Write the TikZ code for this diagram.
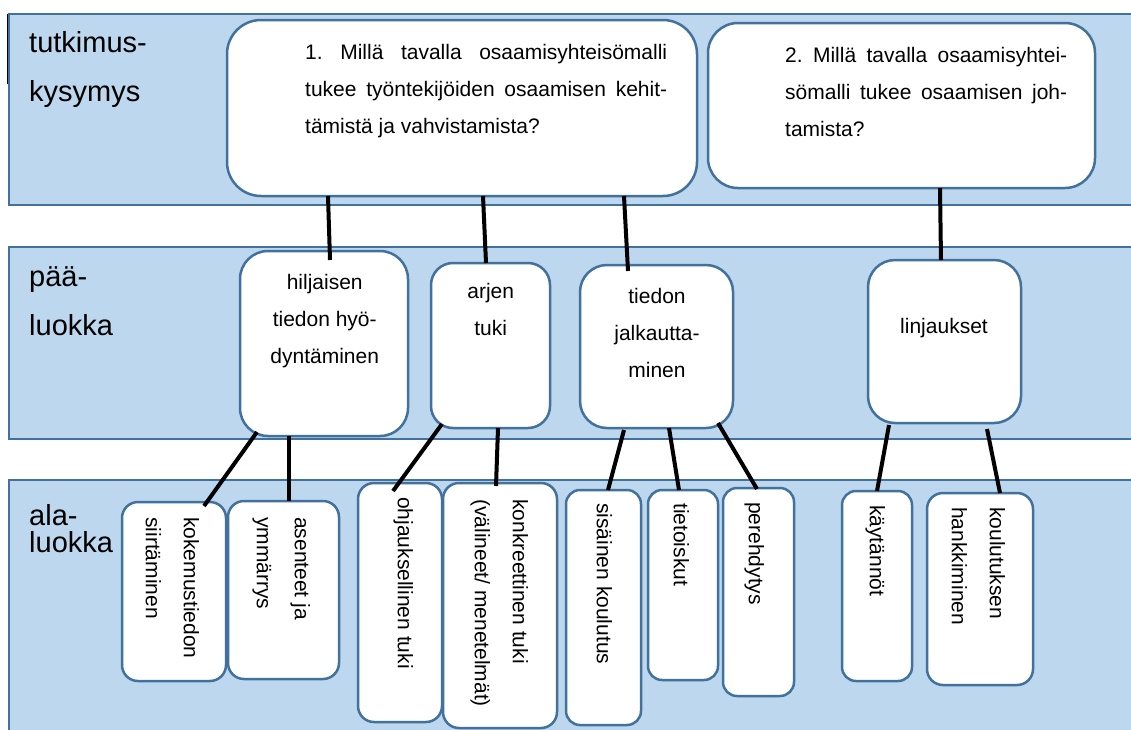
\documentclass[tikz,border=0pt]{standalone}
\usepackage{fontspec}
\setmainfont{Liberation Sans}
\usetikzlibrary{calc}
\definecolor{bandfill}{RGB}{189,215,238}
\definecolor{bandline}{RGB}{65,113,156}
\newcommand\lst[1]{\rule{0pt}{#1}}
\frenchspacing
\begin{document}
\begin{tikzpicture}[x=1pt,y=-1pt,
  band/.style={fill=bandfill,draw=bandline,line width=2pt},
  box/.style={draw=bandline,fill=white,line width=2.5pt,inner sep=0pt,outer sep=0pt},
  link/.style={line width=4pt,draw=black},
  lbl/.style={font=\fontsize{29}{49}\selectfont,anchor=north west,inner sep=0pt,align=left},
  qtxt/.style={font=\fontsize{21}{37}\selectfont,anchor=north west,inner sep=0pt,align=left},
  mtxt/.style={font=\fontsize{21}{37}\selectfont,anchor=north,inner sep=0pt,align=center},
  vtxt/.style={font=\fontsize{21}{38}\selectfont,inner sep=0pt,rotate=-90,anchor=north west,align=left}]
\useasboundingbox (0,0) rectangle (1131,729);
\clip (0,0) rectangle (1131,729);
% bracket mark
\draw[line width=1pt] (38,14) -- (7,14) -- (7,84);
% bands
\draw[band] (9,14) rectangle (1145,205);
\draw[band] (9,247) rectangle (1145,439);
\draw[band] (9,480) rectangle (1145,745);
% band labels
\node[lbl] (l1) at (29,30) {\lst{22pt}tutkimus-\\kysymys};
\node[lbl] (l2) at (29,264) {\lst{22pt}pää-\\luokka};
\node[lbl,font=\fontsize{29}{27}\selectfont] (l3) at (29,503) {\lst{22pt}ala-\\luokka};
% question boxes
\node[box,rounded corners=34pt,minimum width=470pt,minimum height=176pt] (q1) at (462,108) {};
\node[box,rounded corners=30pt,minimum width=387pt,minimum height=165pt] (q2) at (901.5,105.5) {};
\node[qtxt] (tq1) at (305,43) {\lst{16pt}\makebox[362pt][s]{1. Millä tavalla osaamisyhteisömalli}\\\makebox[362pt][s]{tukee työntekijöiden osaamisen kehit-}\\tämistä ja vahvistamista?};
\node[qtxt] (tq2) at (785,46) {\lst{16pt}\makebox[282pt][s]{2. Millä tavalla osaamisyhtei-}\\\makebox[282pt][s]{sömalli tukee osaamisen joh-}\\tamista?};
% main category boxes
\node[box,rounded corners=28pt,minimum width=168pt,minimum height=185pt] (m1) at (324,343.5) {};
\node[box,rounded corners=22pt,minimum width=119pt,minimum height=165pt] (m2) at (490.5,345.5) {};
\node[box,rounded corners=27pt,minimum width=153pt,minimum height=163pt] (m3) at (656.5,346.5) {};
\node[box,rounded corners=27pt,minimum width=153pt,minimum height=163pt] (m4) at (944.5,341.5) {};
\node[mtxt] (tm1) at (324.7,273) {\lst{16pt}hiljaisen\\tiedon hyö-\\dyntäminen};
\node[mtxt] (tm2) at (490.7,282) {\lst{16pt}arjen\\tuki};
\node[mtxt] (tm3) at (657,287) {\lst{16pt}tiedon\\jalkautta-\\minen};
\node[mtxt] (tm4) at (944,317) {\lst{16pt}linjaukset};
% sub category boxes
\node[box,rounded corners=16pt,minimum width=104pt,minimum height=179pt] (s1) at (174,591.5) {};
\node[box,rounded corners=16pt,minimum width=111pt,minimum height=178pt] (s2) at (283.5,590) {};
\node[box,rounded corners=16pt,minimum width=84pt,minimum height=239pt] (s3) at (400,602.5) {};
\node[box,rounded corners=16pt,minimum width=114pt,minimum height=245pt] (s4) at (500,605.5) {};
\node[box,rounded corners=14pt,minimum width=75pt,minimum height=235pt] (s5) at (603.5,607.5) {};
\node[box,rounded corners=14pt,minimum width=70pt,minimum height=190pt] (s6) at (683,585) {};
\node[box,rounded corners=14pt,minimum width=71pt,minimum height=208pt] (s7) at (758.5,592) {};
\node[box,rounded corners=14pt,minimum width=70pt,minimum height=190pt] (s8) at (877,586) {};
\node[box,rounded corners=16pt,minimum width=106pt,minimum height=192pt] (s9) at (980,589) {};
\node[vtxt] (ts1) at (200,517) {\lst{16pt}kokemustiedon\\siirtäminen};
\node[vtxt] (ts2) at (311,517) {\lst{16pt}asenteet ja\\ymmärrys};
\node[vtxt] (ts3) at (414,497) {\lst{16pt}ohjauksellinen tuki};
\node[vtxt] (ts4) at (529,499) {\lst{16pt}konkreettinen tuki\\(välineet/ menetelmät)};
\node[vtxt] (ts5) at (613,503) {\lst{16pt}sisäinen koulutus};
\node[vtxt] (ts6) at (690,503) {\lst{16pt}tietoiskut};
\node[vtxt] (ts7) at (765,502) {\lst{16pt}perehdytys};
\node[vtxt] (ts8) at (886,505) {\lst{16pt}käytännöt};
\node[vtxt] (ts9) at (1006,507) {\lst{16pt}koulutuksen\\hankkiminen};
% connectors
\draw[link] ($(q1.south)+(-134,0)$) -- ($(m1.north)+(6,9)$);
\draw[link] ($(q1.south)+(21,0)$) -- ($(m2.north)+(-4.5,0)$);
\draw[link] ($(q1.south)+(162,0)$) -- ($(m3.north)+(-28.5,6)$);
\draw[link] ($(q2.south)+(38.5,0)$) -- ($(m4.north)+(-3.5,0)$);
\draw[link] ($(m1.south)+(-67,-4)$) -- ($(s1.north)+(30,4)$);
\draw[link] ($(m1.south)+(-35,0)$) -- ($(s2.north)+(5.5,0)$);
\draw[link] ($(m2.south)+(-48.5,-4)$) -- ($(s3.north)+(-7,8)$);
\draw[link] ($(m2.south)+(7.5,0)$) -- ($(s4.north)+(-4,3)$);
\draw[link] ($(m3.south)+(-32.5,2)$) -- ($(s5.north)+(4.5,0)$);
\draw[link] ($(m3.south)+(12.5,0)$) -- ($(s6.north)+(-4,0)$);
\draw[link] ($(m3.south)+(61.5,-5)$) -- ($(s7.north)+(-1.5,1)$);
\draw[link] ($(m4.south)+(-55.5,2)$) -- ($(s8.north)+(0,0)$);
\draw[link] ($(m4.south)+(42.5,6)$) -- ($(s9.north)+(20,0)$);
\end{tikzpicture}
\end{document}
